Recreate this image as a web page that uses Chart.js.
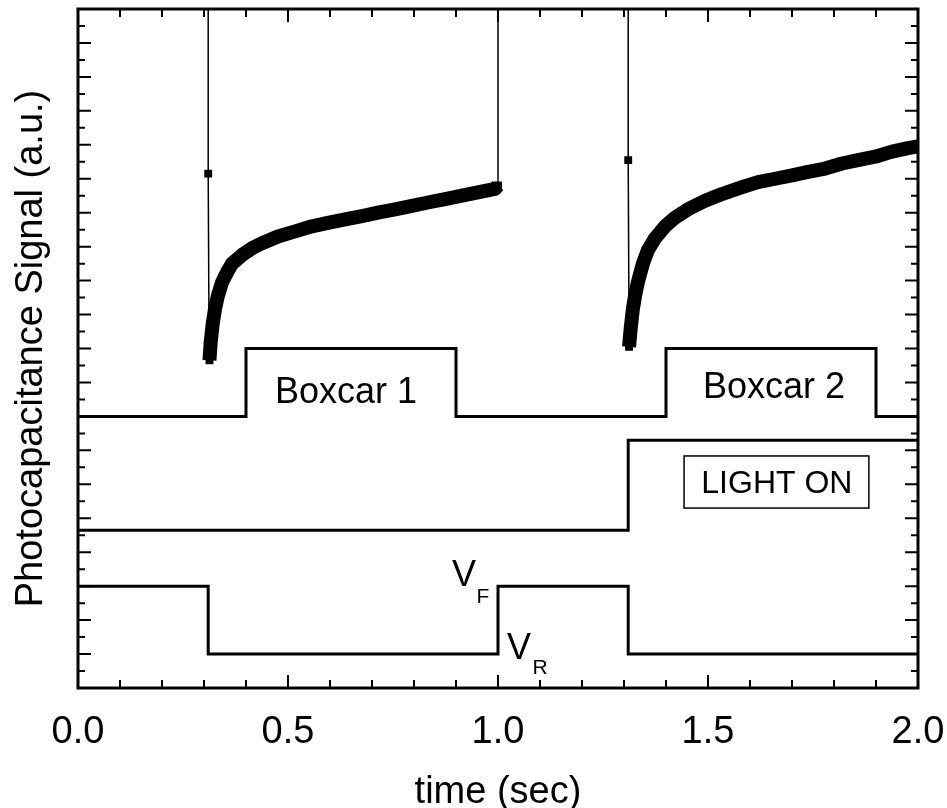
<!DOCTYPE html>
<html>
<head>
<meta charset="utf-8">
<script src="https://cdn.jsdelivr.net/npm/chart.js@4.4.0/dist/chart.umd.min.js"></script>
<style>
  html, body { margin: 0; padding: 0; background: #fff; }
  canvas { display: block; }
</style>
</head>
<body>
<canvas id="photoChart" width="947" height="808"></canvas>
<script>
/*****
 data
 *****/
const xTickLabels = ['0.0', '0.5', '1.0', '1.5', '2.0'];

// bias pulse (V_F high / V_R low), stepped
const biasTime  = [0, 0.31, 1.0, 1.31, 2.0];
const biasValue = [6, 2, 6, 2, 2];

// light on/off, stepped
const lightTime  = [0, 1.31, 2.0];
const lightValue = [9.3, 14.6, 14.6];

// boxcar gates, stepped
const boxcarTime  = [0, 0.4, 0.9, 1.4, 1.9, 2.0];
const boxcarValue = [16, 20, 16, 20, 16, 16];

// capacitance transient 1 (dark)
const spike1Time  = [0.31, 0.31, 0.312, 0.313];
const spike1Value = [44, 30.3, 20.9, 19.3];
const sig1Time  = [0.313, 0.316, 0.321, 0.326, 0.333, 0.343, 0.355, 0.367, 0.390, 0.414, 0.438, 0.476, 0.517,
                   0.557, 0.595, 0.636, 0.676, 0.714, 0.755, 0.795, 0.833, 0.874, 0.914, 0.952, 0.993, 1.0];
const sig1Value = [19.3, 20.4, 21.5, 22.3, 23.1, 23.9, 24.5, 25.0, 25.5, 25.9, 26.2, 26.6, 26.9,
                   27.2, 27.4, 27.6, 27.8, 28.0, 28.2, 28.4, 28.6, 28.8, 29.0, 29.2, 29.4, 29.6];
const endSpikeTime  = [1.0, 1.0];
const endSpikeValue = [29.6, 44];

// capacitance transient 2 (light on)
const spike2Time  = [1.31, 1.31, 1.312, 1.312];
const spike2Value = [44, 31.1, 21.1, 20.1];
const sig2Time  = [1.312, 1.316, 1.321, 1.327, 1.333, 1.345, 1.357, 1.374, 1.398, 1.421, 1.452, 1.493, 1.533,
                   1.581, 1.619, 1.660, 1.700, 1.738, 1.779, 1.819, 1.857, 1.898, 1.938, 1.976, 2.0];
const sig2Value = [20.1, 21.2, 22.3, 23.2, 23.9, 25.0, 25.8, 26.5, 27.2, 27.7, 28.2, 28.7, 29.1,
                   29.5, 29.8, 30.0, 30.2, 30.4, 30.6, 30.9, 31.1, 31.3, 31.6, 31.8, 31.9];

const pts = (xs, ys) => xs.map((x, i) => ({x: x, y: ys[i]}));

/*****
 annotations (positions in data units)
 *****/
const FONT = '"Liberation Sans", Arial, Helvetica, sans-serif';
const notes = [
  {text: 'Boxcar 1', x: 0.638, y: 16.8, size: 36},
  {text: 'Boxcar 2', x: 1.657, y: 17.1, size: 36},
  {text: 'LIGHT ON', x: 1.664, y: 11.5, size: 32},
  {text: 'V', x: 0.919, y: 6.0, size: 36},
  {text: 'F', x: 0.964, y: 5.0, size: 21},
  {text: 'V', x: 1.050, y: 1.7, size: 36},
  {text: 'R', x: 1.100, y: 0.82, size: 21},
];
const lightBox = {x0: 1.443, x1: 1.883, y0: 10.6, y1: 13.67};

const stepLine = {borderColor: '#000', borderWidth: 3, pointRadius: 0, stepped: 'before', clip: 0};
const thinLine = {borderColor: '#000', borderWidth: 1.5, pointStyle: 'rect', backgroundColor: '#000',
                  pointBackgroundColor: '#000', pointBorderColor: '#000', clip: 0};
const band = {borderColor: '#000', borderWidth: 14, pointRadius: 0, borderJoinStyle: 'round', clip: 0};

const framePlugin = {
  id: 'frame',
  beforeDraw(chart) {
    const c = chart.ctx;
    c.save();
    c.fillStyle = '#fff';
    c.fillRect(0, 0, chart.width, chart.height);
    c.restore();
  },
  afterDatasetsDraw(chart) {
    const {ctx, chartArea: a, scales: {x, y}} = chart;
    ctx.save();
    ctx.strokeStyle = '#000';
    ctx.fillStyle = '#000';
    // ticks, inward on all four sides
    ctx.lineWidth = 2;
    ctx.beginPath();
    for (let i = 0; i <= 20; i++) {
      const px = x.getPixelForValue(i / 10);
      const len = i % 5 === 0 ? 13 : 8;
      ctx.moveTo(px, a.bottom); ctx.lineTo(px, a.bottom - len);
      ctx.moveTo(px, a.top); ctx.lineTo(px, a.top + len);
    }
    for (let v = 0; v <= 40; v++) {
      const py = y.getPixelForValue(v);
      const len = v % 2 === 0 ? 13 : 7;
      ctx.moveTo(a.left, py); ctx.lineTo(a.left + len, py);
      ctx.moveTo(a.right, py); ctx.lineTo(a.right - len, py);
    }
    ctx.stroke();
    ctx.lineWidth = 3;
    ctx.strokeRect(a.left, a.top, a.right - a.left, a.bottom - a.top);

    // LIGHT ON box
    ctx.lineWidth = 1.5;
    const bx = x.getPixelForValue(lightBox.x0), by = y.getPixelForValue(lightBox.y1);
    ctx.strokeRect(bx, by, x.getPixelForValue(lightBox.x1) - bx, y.getPixelForValue(lightBox.y0) - by);

    ctx.textAlign = 'center';
    ctx.textBaseline = 'alphabetic';
    notes.forEach(n => {
      ctx.font = n.size + 'px ' + FONT;
      ctx.fillText(n.text, x.getPixelForValue(n.x), y.getPixelForValue(n.y));
    });
    ctx.restore();
  }
};

const ctx = document.getElementById('photoChart').getContext('2d');
let photoChart = new Chart(ctx, {
  type: 'line',
  data: {
    datasets: [
      Object.assign({data: pts(biasTime, biasValue)}, stepLine),
      Object.assign({data: pts(lightTime, lightValue)}, stepLine),
      Object.assign({data: pts(boxcarTime, boxcarValue)}, stepLine),
      Object.assign({data: pts(spike1Time, spike1Value), pointRadius: [0, 4.5, 4.5, 4.5]}, thinLine),
      Object.assign({data: pts(sig1Time, sig1Value)}, band),
      Object.assign({data: pts(endSpikeTime, endSpikeValue), pointRadius: [4.5, 0]}, thinLine),
      Object.assign({data: pts(spike2Time, spike2Value), pointRadius: [0, 4.5, 4.5, 4.5]}, thinLine),
      Object.assign({data: pts(sig2Time, sig2Value)}, band),
    ],
  },
  options: {
    responsive: false,
    devicePixelRatio: 1,
    animation: false,
    layout: {padding: {top: 9, right: 29, left: 0, bottom: 0}},
    plugins: {
      legend: {display: false},
      tooltip: {enabled: false},
    },
    scales: {
      x: {
        type: 'linear',
        min: 0,
        max: 2,
        offset: false,
        grid: {display: false, drawTicks: false},
        border: {display: false},
        ticks: {
          stepSize: 0.5,
          color: '#000',
          padding: 22,
          font: {family: FONT, size: 38},
          callback: (v) => xTickLabels[Math.round(v * 2)],
        },
        title: {display: true, text: 'time (sec)', color: '#000',
                font: {family: FONT, size: 38, lineHeight: 1}, padding: {top: 0, bottom: -4}},
        afterFit(scale) {
          scale.height = 120;
          scale.paddingLeft = 0;
          scale.paddingRight = 0;
        },
      },
      y: {
        min: 0,
        max: 40,
        grid: {display: false, drawTicks: false},
        border: {display: false},
        ticks: {display: false, stepSize: 1},
        title: {display: true, text: 'Photocapacitance Signal (a.u.)', color: '#000',
                font: {family: FONT, size: 38}, padding: {top: 9, bottom: 0}},
        afterFit(scale) { scale.width = 78; },
      },
    },
  },
  plugins: [framePlugin],
});
</script>
</body>
</html>
